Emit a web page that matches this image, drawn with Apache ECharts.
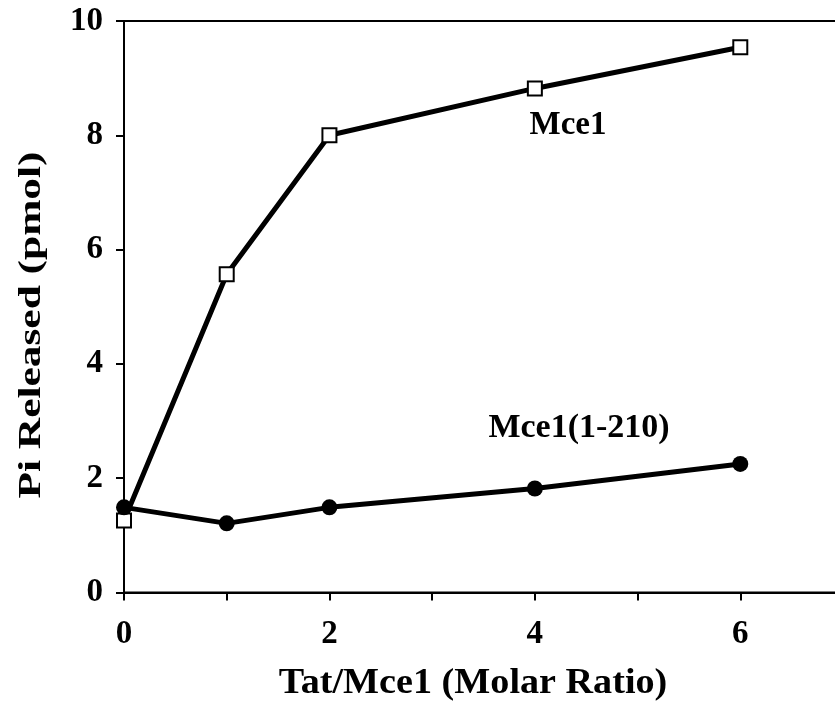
<!DOCTYPE html>
<html>
<head>
<meta charset="utf-8">
<script src="https://cdn.jsdelivr.net/npm/echarts@6/dist/echarts.min.js"></script>
<style>html,body{margin:0;padding:0;background:#fff;overflow:hidden;width:835px;height:712px}#c{width:846px;height:712px}</style>
</head>
<body>
<div id="c"></div>
<script>
const ratios = [0, 1, 2, 4, 6];
const mce1 = [1.26, 5.57, 8.00, 8.82, 9.54];
const mce1Trunc = [1.49, 1.21, 1.49, 1.82, 2.25];
const xTickLabels = ['0', '2', '4', '6'];
const yTickLabels = ['0', '2', '4', '6', '8', '10'];
const xTitle = 'Tat/Mce1 (Molar Ratio)';
const yTitle = 'Pi Released (pmol)';
const seriesNames = ['Mce1', 'Mce1(1-210)'];

const FONT = '"Liberation Serif", "Times New Roman", serif';
const chart = echarts.init(document.getElementById('c'));
chart.setOption({
  animation: false,
  backgroundColor: '#fff',
  grid: { left: 124, top: 21, right: 0, bottom: 119.5, show: true, borderColor: '#000', borderWidth: 2, backgroundColor: 'transparent' },
  xAxis: {
    type: 'value', min: 0, max: 7, interval: 1,
    axisLine: { lineStyle: { color: '#000', width: 2 } },
    axisTick: { show: true, length: 8, lineStyle: { color: '#000', width: 2 } },
    splitLine: { show: false },
    axisLabel: {
      color: '#000', fontSize: 33, fontWeight: 'bold', fontFamily: FONT, margin: 25,
      formatter: v => xTickLabels.includes(String(v)) ? String(v) : ''
    }
  },
  yAxis: {
    type: 'value', min: 0, max: 10, interval: 2,
    axisLine: { show: true, lineStyle: { color: '#000', width: 2 } },
    axisTick: { show: true, length: 8, lineStyle: { color: '#000', width: 2 } },
    splitLine: { show: false },
    axisLabel: {
      color: '#000', fontSize: 33, fontWeight: 'bold', fontFamily: FONT, margin: 21,
      formatter: v => yTickLabels.includes(String(v)) ? String(v) : ''
    }
  },
  graphic: [
    { type: 'text', x: 473, y: 684, scaleX: 1.06, style: { text: xTitle, font: 'bold 36px ' + FONT, fill: '#000', align: 'center', verticalAlign: 'middle' } },
    { type: 'text', x: 32, y: 325, rotation: Math.PI / 2, scaleX: 1.4, style: { text: yTitle, font: 'bold 31px ' + FONT, fill: '#000', align: 'center', verticalAlign: 'middle' } },
    { type: 'text', x: 568, y: 125, style: { text: seriesNames[0], font: 'bold 33px ' + FONT, fill: '#000', align: 'center', verticalAlign: 'middle' } },
    { type: 'text', x: 579, y: 428, style: { text: seriesNames[1], font: 'bold 34px ' + FONT, fill: '#000', align: 'center', verticalAlign: 'middle' } }
  ],
  series: [
    {
      name: seriesNames[0], type: 'line', data: ratios.map((x, i) => [x, mce1[i]]),
      symbol: 'rect', symbolSize: 14,
      lineStyle: { color: '#000', width: 5 },
      itemStyle: { color: '#fff', borderColor: '#000', borderWidth: 2 },
      z: 2
    },
    {
      name: seriesNames[1], type: 'line', data: ratios.map((x, i) => [x, mce1Trunc[i]]),
      symbol: 'circle', symbolSize: 16,
      lineStyle: { color: '#000', width: 5 },
      itemStyle: { color: '#000', borderColor: '#000', borderWidth: 0 },
      z: 3
    }
  ]
});
</script>
</body>
</html>
